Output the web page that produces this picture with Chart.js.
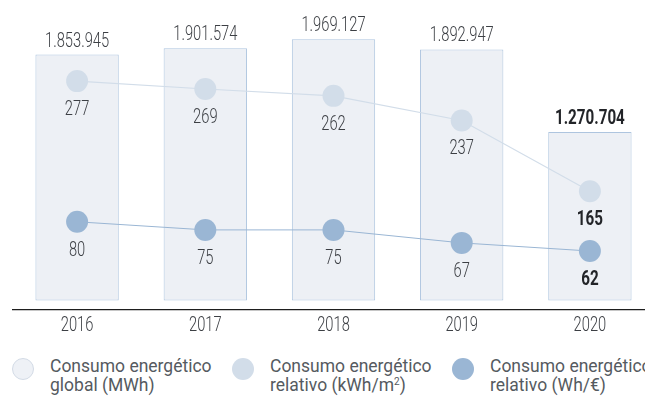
<!DOCTYPE html>
<html lang="es">
<head>
<meta charset="utf-8">
<title>Consumo energético</title>
<script src="https://cdn.jsdelivr.net/npm/chart.js@4/dist/chart.umd.min.js"></script>
<style>
    html, body {
        margin: 0;
        padding: 0;
        background: #ffffff;
        width: 645px;
        height: 396px;
        overflow: hidden;
        position: relative;
        font-family: Roboto, "Noto Sans", sans-serif;
    }
    .chart-box {
        position: absolute;
        left: 0;
        top: 0;
        width: 670px;
        height: 345px;
    }
    .legend-item {
        position: absolute;
        top: 357px;
        white-space: nowrap;
    }
    .legend-dot {
        position: absolute;
        top: 0;
        width: 22px;
        height: 22px;
        border-radius: 50%;
        box-sizing: border-box;
    }
    .legend-text {
        position: absolute;
        top: 0;
        font-size: 17.5px;
        line-height: 19px;
        color: #555a60;
    }
    .legend-text sup {
        font-size: 10px;
        line-height: 0;
        vertical-align: 6px;
    }
</style>
</head>
<body>
<div class="chart-box"><canvas id="energyChart"></canvas></div>

<div class="legend-item" style="left:12px">
    <div class="legend-dot" style="left:0; top:1px; background:#eef1f6; border:1px solid #d3dbe6"></div>
    <div class="legend-text" style="left:38px">Consumo energético<br>global (MWh)</div>
</div>
<div class="legend-item" style="left:232px">
    <div class="legend-dot" style="left:0; top:1px; background:#d2dde9"></div>
    <div class="legend-text" style="left:38px">Consumo energético<br>relativo (kWh/m<sup>2</sup>)</div>
</div>
<div class="legend-item" style="left:452px">
    <div class="legend-dot" style="left:0; top:1px; background:#9ab6d4"></div>
    <div class="legend-text" style="left:38px">Consumo energético<br>relativo (Wh/€)</div>
</div>

<script>
// Years and the three series
const years = ['2016', '2017', '2018', '2019', '2020'];
const globalMWh = [1853945, 1901574, 1969127, 1892947, 1270704];
const relativeKWhM2 = [277, 269, 262, 237, 165];
const relativeWhEur = [80, 75, 75, 67, 62];

const textColor = '#3c3f44';

// thousands with dots, e.g. 1.853.945
function formatNumber(value) {
    return String(value).replace(/\B(?=(\d{3})+(?!\d))/g, '.');
}

// condensed look: squeeze the text horizontally
function drawCondensed(ctx, text, x, y, bold) {
    ctx.save();
    ctx.translate(x, y);
    ctx.scale(bold ? 0.76 : 0.7, 1);
    ctx.font = (bold ? 'bold ' : '300 ') + (bold ? '20px' : '21px') + ' Roboto, sans-serif';
    ctx.fillStyle = bold ? '#222428' : textColor;
    ctx.textAlign = 'center';
    ctx.textBaseline = 'alphabetic';
    ctx.fillText(text, 0, 0);
    ctx.restore();
}

// Value labels above the bars, below the points, plus the year labels
const valueLabels = {
    id: 'valueLabels',
    afterDatasetsDraw(chart) {
        const ctx = chart.ctx;
        const lastIndex = years.length - 1;

        chart.data.datasets.forEach((ds, di) => {
            const meta = chart.getDatasetMeta(di);
            meta.data.forEach((el, i) => {
                const bold = i === lastIndex;
                const text = formatNumber(ds.data[i]);
                if (ds.type === 'line') {
                    drawCondensed(ctx, text, el.x, el.y + 34, bold);
                } else {
                    drawCondensed(ctx, text, el.x, el.y - 8, bold);
                }
            });
        });

        // years under the axis line
        const xScale = chart.scales.x;
        years.forEach((year, i) => {
            drawCondensed(ctx, year, xScale.getPixelForValue(i), chart.chartArea.bottom + 21, false);
        });
    }
};

const ctx = document.getElementById('energyChart').getContext('2d');
const energyChart = new Chart(ctx, {
    type: 'bar',
    data: {
        labels: years,
        datasets: [
            {
                type: 'line',
                label: 'Consumo energético relativo (Wh/€)',
                data: relativeWhEur,
                yAxisID: 'yWh',
                borderColor: '#9ab6d4',
                backgroundColor: '#9ab6d4',
                borderWidth: 1,
                pointRadius: 11,
                pointHoverRadius: 11,
                pointBorderWidth: 0,
                tension: 0,
                order: 1
            },
            {
                type: 'line',
                label: 'Consumo energético relativo (kWh/m²)',
                data: relativeKWhM2,
                yAxisID: 'yRel',
                borderColor: '#d2dde9',
                backgroundColor: '#d2dde9',
                borderWidth: 1.2,
                pointRadius: 11,
                pointHoverRadius: 11,
                pointBorderWidth: 0,
                tension: 0,
                order: 2
            },
            {
                type: 'bar',
                label: 'Consumo energético global (MWh)',
                data: globalMWh,
                yAxisID: 'y',
                backgroundColor: '#edf0f5',
                borderColor: '#aec5df',
                borderWidth: 1,
                borderSkipped: false,
                categoryPercentage: 1,
                barPercentage: 0.65,
                order: 3
            }
        ]
    },
    options: {
        responsive: true,
        maintainAspectRatio: false,
        animation: false,
        events: [],
        layout: {
            padding: { left: 13, right: 16, top: 20, bottom: 0 }
        },
        plugins: {
            legend: { display: false },
            tooltip: { enabled: false }
        },
        scales: {
            x: {
                grid: { display: false },
                border: { display: true, color: '#1e1e1e', width: 1.2 },
                ticks: { display: false },
                afterFit: (scale) => { scale.height = 35; }
            },
            y: {
                display: false,
                min: -72000,
                max: 2115000
            },
            yRel: {
                display: false,
                min: 44.4,
                max: 339.1
            },
            yWh: {
                display: false,
                min: 25.7,
                max: 204.2
            }
        }
    },
    plugins: [valueLabels]
});
</script>
</body>
</html>
